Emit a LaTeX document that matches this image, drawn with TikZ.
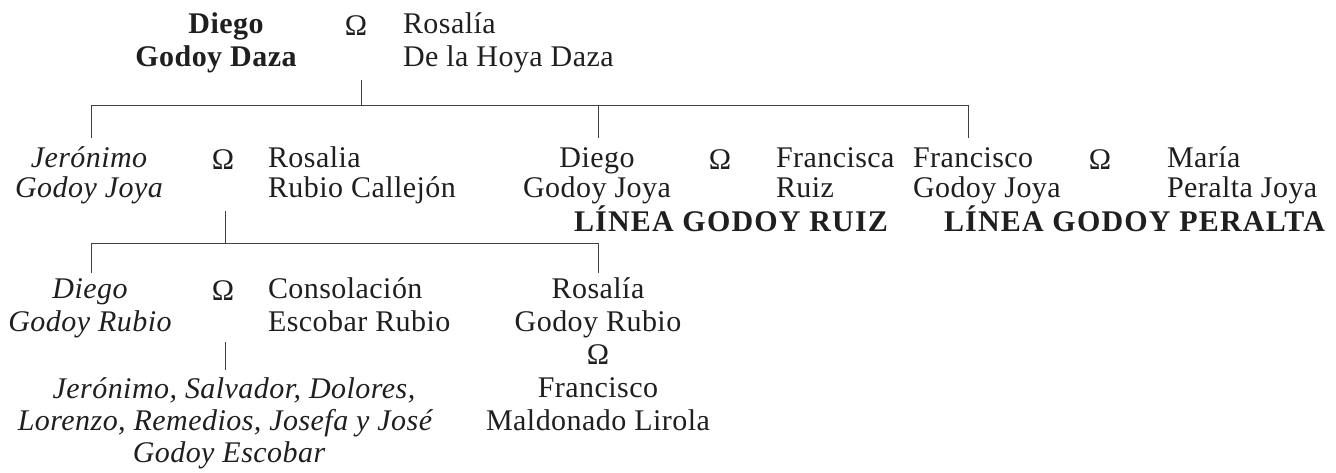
\documentclass[tikz,border=0pt]{standalone}
\usepackage{fontspec}
\setmainfont{Liberation Serif}[LetterSpace=1.5]
\newfontfamily\boldls{Liberation Serif}[LetterSpace=4]
\begin{document}
\begin{tikzpicture}[x=1pt,y=-1pt,
  txt/.style={inner sep=0pt,outer sep=0pt,text=black!88,font=\fontsize{30}{33}\selectfont},
  ctr/.style={txt,anchor=base},
  lft/.style={txt,anchor=base west},
  itc/.style={txt,anchor=base,font=\fontsize{30}{33}\selectfont\itshape},
  bld/.style={txt,anchor=base,font=\fontsize{30}{33}\selectfont\bfseries},
  bldl/.style={txt,anchor=base west,font=\fontsize{30}{33}\boldls\selectfont\bfseries},
  om/.style={txt,anchor=base},
  ln/.style={draw=black!75,line width=0.9pt}]
\useasboundingbox (0,0) rectangle (1336,472);
\fill[white] (0,0) rectangle (1336,472);

% ---- Row 1
\node[bld] (dgd1) at (226,33) {Diego};
\node[bld] (dgd2) at (216,66) {Godoy Daza};
\node[om]  (om1)  at (356,35) {Ω};
\node[lft] (rhd1) at (403,33) {Rosalía};
\node[lft] (rhd2) at (403,66) {De la Hoya Daza};

% ---- Row 2
\node[itc] (jgj1) at (89,167) {Jerónimo};
\node[itc] (jgj2) at (89,197) {Godoy Joya};
\node[om]  (om2)  at (223,169) {Ω};
\node[lft] (rrc1) at (268,167) {Rosalia};
\node[lft] (rrc2) at (268,197) {Rubio Callejón};

\node[ctr] (dgj1) at (597,167) {Diego};
\node[ctr] (dgj2) at (597,197) {Godoy Joya};
\node[om]  (om3)  at (720,169) {Ω};
\node[lft] (fr1)  at (776,167) {Francisca};
\node[lft] (fr2)  at (776,197) {Ruiz};
\node[bldl] (lgr) at (574,231) {LÍNEA GODOY RUIZ};

\node[lft] (fgj1) at (913,167) {Francisco};
\node[lft] (fgj2) at (913,197) {Godoy Joya};
\node[om]  (om4)  at (1100,169) {Ω};
\node[lft] (mpj1) at (1167,167) {María};
\node[lft] (mpj2) at (1167,197) {Peralta Joya};
\node[bldl] (lgp) at (944,231) {LÍNEA GODOY PERALTA};

% ---- Row 3
\node[itc] (dgr1) at (90,298) {Diego};
\node[itc] (dgr2) at (90,331) {Godoy Rubio};
\node[om]  (om5)  at (223,300) {Ω};
\node[lft] (ceb1) at (268,298) {Consolación};
\node[lft] (ceb2) at (268,331) {Escobar Rubio};

\node[ctr] (rgr1) at (598,298) {Rosalía};
\node[ctr] (rgr2) at (598,331) {Godoy Rubio};
\node[om]  (om6)  at (598,364) {Ω};
\node[ctr] (fml1) at (598,397) {Francisco};
\node[ctr] (fml2) at (598,430) {Maldonado Lirola};

\node[itc] (ch1) at (234,398) {Jerónimo, Salvador, Dolores,};
\node[itc] (ch2) at (225,430) {Lorenzo, Remedios, Josefa y José};
\node[itc] (ch3) at (229,462) {Godoy Escobar};

% ---- Connectors
\coordinate (m1) at (361,80);
\coordinate (j1) at (361,105);
\coordinate (a1) at (91,105);  \coordinate (a1b) at (91,138);
\coordinate (b1) at (598,105); \coordinate (b1b) at (598,138);
\coordinate (c1) at (968,105); \coordinate (c1b) at (968,138);
\draw[ln] (m1) -- (j1);
\draw[ln] (a1b) -- (a1) -- (c1) -- (c1b);
\draw[ln] (b1) -- (b1b);

\coordinate (m2) at (225,211);
\coordinate (j2) at (225,243);
\coordinate (a2) at (91,243);  \coordinate (a2b) at (91,273);
\coordinate (b2) at (598,243); \coordinate (b2b) at (598,273);
\draw[ln] (m2) -- (j2);
\draw[ln] (a2b) -- (a2) -- (b2) -- (b2b);

\coordinate (m3) at (225,342);
\coordinate (m3b) at (225,370);
\draw[ln] (m3) -- (m3b);
\end{tikzpicture}
\end{document}
